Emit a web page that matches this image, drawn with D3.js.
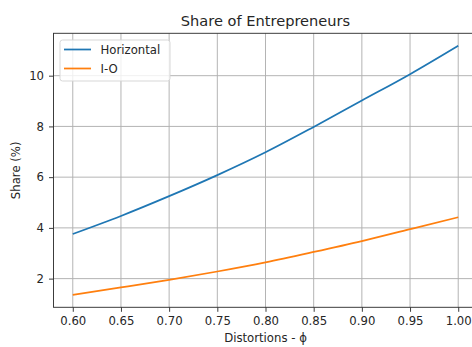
<!DOCTYPE html>
<html>
<head>
<meta charset="utf-8">
<script src="https://cdn.jsdelivr.net/npm/d3@7/dist/d3.min.js"></script>
<style>
  html, body { margin: 0; padding: 0; background: #fff; }
  svg { display: block; font-family: "DejaVu Sans", sans-serif; }
</style>
</head>
<body>
<svg id="chart" width="472" height="347"></svg>
<script>
// Distortion parameter values (x axis)
const phi = [0.60, 0.65, 0.70, 0.75, 0.80, 0.85, 0.90, 0.95, 1.00];
// Share of entrepreneurs (%) by integration type
const horizontal = [3.76, 4.47, 5.25, 6.08, 6.98, 7.98, 9.02, 10.06, 11.18];
const io = [1.36, 1.65, 1.95, 2.28, 2.64, 3.05, 3.48, 3.95, 4.42];
const seriesNames = ["Horizontal", "I-O"];
const xTicks = [0.60, 0.65, 0.70, 0.75, 0.80, 0.85, 0.90, 0.95, 1.00];
const yTicks = [2, 4, 6, 8, 10];

const colors = ["#1f77b4", "#ff7f0e"];
const svg = d3.select("#chart");

const plot = { left: 53.5, right: 477.5, top: 33.3, bottom: 307.3 };

// Axis limits with 5% padding on each side
function padded(ext) {
  const r = ext[1] - ext[0];
  return [ext[0] - 0.05 * r, ext[1] + 0.05 * r];
}
const xExt = d3.extent(phi);
const yExt = d3.extent(horizontal.concat(io));

const x = d3.scaleLinear().domain(padded(xExt)).range([plot.left, plot.right]);
const y = d3.scaleLinear().domain(padded(yExt)).range([plot.bottom, plot.top]);

// Grid
const grid = svg.append("g").attr("stroke", "#b0b0b0").attr("stroke-width", 0.95);
grid.selectAll("line.gx").data(xTicks).enter().append("line")
  .attr("x1", d => x(d)).attr("x2", d => x(d))
  .attr("y1", plot.top).attr("y2", plot.bottom);
grid.selectAll("line.gy").data(yTicks).enter().append("line")
  .attr("x1", plot.left).attr("x2", plot.right)
  .attr("y1", d => y(d)).attr("y2", d => y(d));

// Series lines
const line = d3.line().x(d => x(d[0])).y(d => y(d[1])).curve(d3.curveMonotoneX);
[horizontal, io].forEach((vals, i) => {
  svg.append("path")
    .datum(phi.map((p, j) => [p, vals[j]]))
    .attr("fill", "none")
    .attr("stroke", colors[i])
    .attr("stroke-width", 1.75)
    .attr("d", line);
});

// Axes
const fmt = d3.format(".2f");
const xAxis = svg.append("g")
  .attr("transform", `translate(0,${plot.bottom})`)
  .call(d3.axisBottom(x).tickValues(xTicks).tickFormat(fmt).tickSize(4.5).tickPadding(4.5));
const yAxis = svg.append("g")
  .attr("transform", `translate(${plot.left},0)`)
  .call(d3.axisLeft(y).tickValues(yTicks).tickFormat(d3.format("d")).tickSize(4.5).tickPadding(5));

[xAxis, yAxis].forEach(g => {
  g.select(".domain").remove();
  g.selectAll("line").attr("stroke", "#333").attr("stroke-width", 0.95);
  g.selectAll("text").attr("fill", "#262626")
    .style("font-family", "DejaVu Sans").style("font-size", "11.7px");
});

// Spines
const spines = svg.append("g").attr("stroke", "#333").attr("stroke-width", 0.95).attr("fill", "none");
spines.append("rect")
  .attr("x", plot.left).attr("y", plot.top)
  .attr("width", plot.right - plot.left).attr("height", plot.bottom - plot.top);

// Title and axis labels
svg.append("text")
  .attr("x", (plot.left + plot.right) / 2).attr("y", 25.5)
  .attr("text-anchor", "middle").attr("fill", "#262626")
  .style("font-size", "14.6px")
  .text("Share of Entrepreneurs");

svg.append("text")
  .attr("x", (plot.left + plot.right) / 2).attr("y", 342)
  .attr("text-anchor", "middle").attr("fill", "#262626")
  .style("font-size", "11.7px")
  .text("Distortions - ϕ");

svg.append("text")
  .attr("transform", `translate(20,${(plot.top + plot.bottom) / 2}) rotate(-90)`)
  .attr("text-anchor", "middle").attr("fill", "#262626")
  .style("font-size", "11.7px")
  .text("Share (%)");

// Legend
const legend = svg.append("g");
legend.append("rect")
  .attr("x", 60).attr("y", 40).attr("width", 110).attr("height", 41)
  .attr("rx", 2.5).attr("fill", "#fff").attr("fill-opacity", 0.8)
  .attr("stroke", "#d5d5d5").attr("stroke-width", 0.95);
seriesNames.forEach((name, i) => {
  const ly = 49.5 + i * 19;
  legend.append("line")
    .attr("x1", 64).attr("x2", 91).attr("y1", ly).attr("y2", ly)
    .attr("stroke", colors[i]).attr("stroke-width", 1.75);
  legend.append("text")
    .attr("x", 100.5).attr("y", ly + 4.3)
    .attr("fill", "#262626").style("font-size", "11.7px")
    .text(name);
});
</script>
</body>
</html>
